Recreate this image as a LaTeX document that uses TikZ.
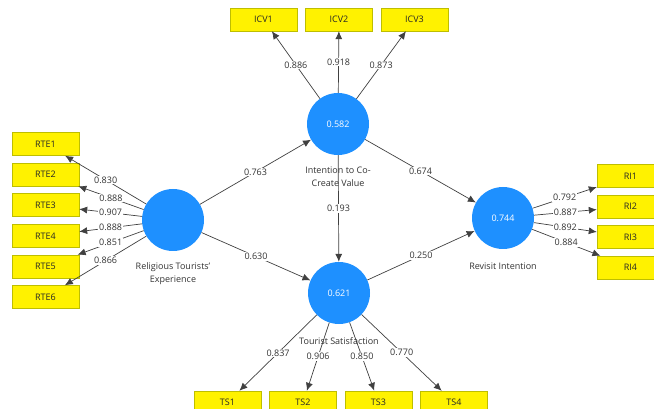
\documentclass[tikz,border=0pt]{standalone}
\usepackage{fontspec}
\setmainfont{Open Sans}
\usetikzlibrary{arrows.meta,positioning}
\definecolor{plsblue}{RGB}{30,144,255}
\definecolor{itemborder}{RGB}{190,190,0}

\begin{document}
\begin{tikzpicture}[x=1pt,y=-1pt,
  font=\fontsize{9}{13}\selectfont,
  latent/.style={circle,fill=plsblue,minimum size=62pt,inner sep=0pt,text=white},
  item/.style={draw=itemborder,fill=yellow,minimum width=67pt,minimum height=23pt,inner sep=0pt,text=black!85},
  link/.style={draw=black!75,line width=0.7pt,-{Latex[length=8pt,width=7pt]}},
  coef/.style={fill=white,inner sep=1pt,text=black!80},
  caption/.style={align=center,text=black!80,inner sep=0pt}]
  \useasboundingbox (0,0) rectangle (654,409);

  % constructs
  \node[latent] (rte) at (173,220) {};
  \node[latent] (icv) at (338,124) {0.582};
  \node[latent] (ts)  at (339,293) {0.621};
  \node[latent] (ri)  at (503,218) {0.744};

  % indicators
  \foreach \i in {1,...,6}
    \node[item] (rte\i) at (45.5,{144+30.6*(\i-1)}) {RTE\i};
  \foreach \i in {1,...,3}
    \node[item] (icv\i) at ({263.5+75.5*(\i-1)},19.5) {ICV\i};
  \foreach \i in {1,...,4}
    \node[item] (ts\i) at ({227.5+75.5*(\i-1)},402.5) {TS\i};
  \foreach \i in {1,...,4}
    \node[item] (ri\i) at (630.5,{176+30.5*(\i-1)}) {RI\i};

  % outer loadings
  \foreach \i/\w in {1/0.830,2/0.888,3/0.907,4/0.888,5/0.851,6/0.866}
    \draw[link] (rte) -- node[coef] {\w} (rte\i);
  \foreach \i/\w in {1/0.886,2/0.918,3/0.873}
    \draw[link] (icv) -- node[coef] {\w} (icv\i);
  \foreach \i/\w in {1/0.837,2/0.906,3/0.850,4/0.770}
    \draw[link] (ts) -- node[coef] {\w} (ts\i);
  \foreach \i/\w in {1/0.792,2/0.887,3/0.892,4/0.884}
    \draw[link] (ri) -- node[coef] {\w} (ri\i);

  % path coefficients
  \draw[link] (rte) -- node[coef] {0.763} (icv);
  \draw[link] (rte) -- node[coef] {0.630} (ts);
  \draw[link] (icv) -- node[coef] {0.193} (ts);
  \draw[link] (icv) -- node[coef] {0.674} (ri);
  \draw[link] (ts)  -- node[coef] {0.250} (ri);

  % construct names
  \node[caption,below=11pt of rte] {Religious Tourists'\\Experience};
  \node[caption,below=11pt of icv] {Intention to Co-\\Create Value};
  \node[caption,below=13pt of ts]  {Tourist Satisfaction};
  \node[caption,below=13pt of ri]  {Revisit Intention};
\end{tikzpicture}
\end{document}
